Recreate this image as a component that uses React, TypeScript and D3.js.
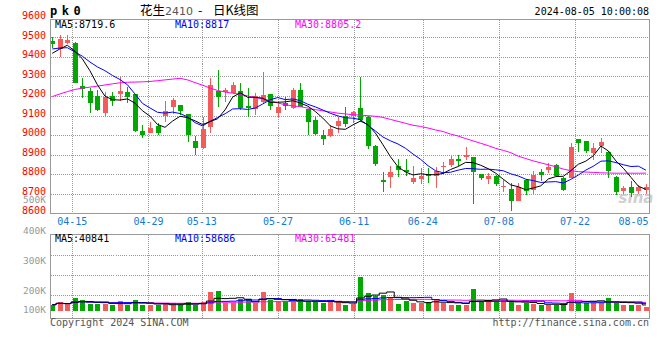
import React from 'react';
import * as d3 from 'd3';

const dates = [
  '04-10','04-11','04-12','04-15','04-16','04-17','04-18','04-19','04-22','04-23',
  '04-24','04-25','04-26','04-29','04-30','05-06','05-07','05-08','05-09','05-10',
  '05-13','05-14','05-15','05-16','05-17','05-20','05-21','05-22','05-23','05-24',
  '05-27','05-28','05-29','05-30','05-31','06-03','06-04','06-05','06-06','06-07',
  '06-11','06-12','06-13','06-14','06-17','06-18','06-19','06-20','06-21','06-24',
  '06-25','06-26','06-27','06-28','07-01','07-02','07-03','07-04','07-05','07-08',
  '07-09','07-10','07-11','07-12','07-15','07-16','07-17','07-18','07-19','07-22',
  '07-23','07-24','07-25','07-26','07-29','07-30','07-31','08-01','08-02','08-05',
];

const opens = [
  9481,9439,9473,9473,9251,9226,9200,9115,9200,9210,
  9220,9210,9021,9013,9047,9095,9146,9154,9106,8969,
  8933,9043,9226,9219,9217,9226,9149,9132,9171,9210,
  9115,9163,9140,9231,9132,9077,9000,8996,9048,9098,
  9097,9136,9094,8945,8768,8785,8844,8823,8759,8773,
  8803,8790,8838,8845,8879,8886,8888,8801,8773,8793,
  8739,8724,8664,8771,8720,8810,8819,8847,8783,8783,
  8978,8969,8907,8946,8915,8788,8712,8732,8712,8717,
];
const highs = [
  9503,9512,9509,9478,9294,9240,9232,9222,9222,9299,
  9244,9212,9052,9069,9061,9174,9192,9156,9108,8995,
  9094,9294,9333,9240,9273,9268,9239,9214,9324,9212,
  9176,9193,9240,9268,9134,9091,9026,9052,9091,9142,
  9124,9297,9096,8947,8812,8840,8879,8879,8844,8832,
  8832,8835,8861,8891,8900,8938,8890,8803,8806,8795,
  8771,8754,8754,8775,8817,8825,8859,8851,8785,8961,
  8980,8971,8961,8986,8917,8790,8741,8763,8746,8749,
];
const lows = [
  9443,9401,9466,9265,9192,9115,9122,9098,9148,9176,
  9166,9018,8987,9009,9001,9069,9108,9103,8966,8898,
  8930,9013,9146,9171,9213,9129,9094,9103,9159,9130,
  9094,9129,9135,9142,9001,9001,8950,8989,9013,9043,
  9060,9068,8928,8844,8708,8727,8785,8790,8752,8752,
  8756,8727,8803,8837,8844,8874,8646,8772,8752,8742,
  8707,8610,8662,8695,8700,8763,8805,8788,8712,8780,
  8915,8907,8873,8907,8780,8695,8700,8683,8700,8700,
];
const closes = [
  9466,9490,9486,9268,9236,9166,9130,9197,9175,9226,
  9197,9021,9002,9037,9013,9125,9180,9125,9001,8932,
  9031,9256,9197,9231,9256,9140,9140,9200,9205,9151,
  9142,9150,9231,9146,9069,9006,8981,9031,9072,9057,
  9119,9077,8942,8854,8760,8812,8820,8810,8778,8790,
  8790,8818,8843,8879,8866,8896,8810,8778,8790,8752,
  8742,8664,8732,8712,8797,8797,8839,8793,8720,8941,
  8961,8919,8932,8966,8814,8707,8729,8703,8737,8734,
];
// closes of the sessions just before the first visible one (for MA5 / MA10)
const priorCloses = [9440,9470,9480,9460,9460,9380,9390,9420,9434];

const ma30Price = [
  9197,9210,9222,9233,9240,9245,9250,9256,9262,9267,
  9270,9271,9272,9274,9278,9282,9286,9290,9282,9268,
  9255,9240,9228,9220,9214,9208,9200,9192,9185,9176,
  9164,9155,9149,9145,9138,9130,9124,9118,9112,9108,
  9104,9102,9099,9096,9090,9080,9070,9060,9050,9044,
  9036,9026,9018,9005,8995,8982,8970,8958,8946,8932,
  8922,8910,8892,8880,8868,8858,8848,8838,8826,8818,
  8813,8811,8809,8807,8806,8805,8805,8805,8805,8805.2,
];

const volumes = [
  52600,66000,56100,85900,75900,56100,56100,56100,52600,71000,
  52600,75900,52600,52600,49600,56100,52600,52600,66000,52600,
  66000,115600,120600,59600,59600,79400,79400,59600,115600,75900,
  66000,69500,66000,79400,69500,66000,62500,66000,66000,52600,
  56100,188600,109200,95800,99300,85900,56100,69500,62500,59600,
  66000,77400,59600,52600,52600,52600,130500,66000,66000,66000,
  75900,72500,52600,59600,56100,52600,52600,52600,52600,112200,
  62500,62500,59600,62500,85900,59600,52600,52600,49600,42700,
];

const priceTicks = [9600,9500,9400,9300,9200,9100,9000,8900,8800,8700,8600];
const priceGrid = [9500,9400,9300,9200,9100,9000,8900,8800,8700];
const volTicks = [500000,400000,300000,200000,100000];
const volTickLabels = ['500K','400K','300K','200K','100K'];
const volGrid = [300000,200000,100000];
const dateTicks = ['04-15','04-29','05-13','05-27','06-11','06-24','07-08','07-22','08-05'];

const priceLegend = ['MA5:8719.6','MA10:8817','MA30:8805.2'];
const volLegend = ['MA5:40841','MA10:58686','MA30:65481'];
const legendColors = ['#000000','#0000ff','#ff00ff'];
const legendX = [55,175,295];

const RED = '#f45b5b';
const GREEN = '#00a800';
const MONO = '"DejaVu Sans Mono", "Liberation Mono", monospace';
const CJK = '"Noto Sans CJK SC", sans-serif';

export default function App() {
  const L = 50.5, R = 649.5, T = 19.5, B = 213.5;
  const VT = 234.5, VB = 318.5;

  const x = d3.scalePoint<string>().domain(dates).range([52.3, 646]);
  const xg = d3.scalePoint<string>().domain(dates).range([49.45, 651.2]);
  const y = d3.scaleLinear().domain([8600, 9600]).range([213.3, 17.7]);
  const yLab = d3.scaleLinear().domain([8600, 9600]).range([214.3, 19]);
  const yv = d3.scaleLinear().domain([0, 400000]).range([315.3, 234.7]);
  const yvLab = d3.scaleLinear()
    .domain([100000, 200000, 300000, 400000, 500000])
    .range([313.3, 294, 264.3, 234, 203.3]);

  const allCloses = [...priorCloses, ...closes];
  const off = priorCloses.length;
  const maOf = (n: number) => closes.map((_, i) => d3.mean(allCloses.slice(i + off - n + 1, i + off + 1)) as number);
  const ma5 = maOf(5);
  const ma10 = maOf(10);
  const vma = (n: number) => volumes.map((_, i) => d3.mean(volumes.slice(Math.max(0, i - n + 1), i + 1)) as number);

  const cx = (i: number) => Math.round(x(dates[i]) as number);

  const priceLine = d3.line<number>().x((_, i) => x(dates[i]) as number).y(d => y(d));
  const volLine = d3.line<number>().x((_, i) => x(dates[i]) as number).y(d => yv(d)).curve(d3.curveStep);

  const gridXs = dateTicks
    .map(d => Math.round(xg(d) as number) + 0.5)
    .filter(v => v < R - 1);

  return (
    <svg width={660} height={360} style={{ position: 'absolute', left: 0, top: 0, background: '#fff' }}>
      {/* header */}
      <text x={50} y={15} fontFamily={MONO} fontWeight="bold" fontSize={12} letterSpacing={4.5} fill="#000">pk0</text>
      <text y={15} fontSize={12.5} fill="#000" fontFamily={CJK}>
        <tspan x={140}>花生</tspan>
        <tspan x={165} fill="#555" fontFamily="'DejaVu Sans', sans-serif" fontSize={11}>2410</tspan>
        <tspan x={198}>-</tspan>
        <tspan x={213}>日K线图</tspan>
      </text>
      <text x={649} y={15} textAnchor="end" fontFamily={MONO} fontSize={10} fill="#000">2024-08-05 10:00:08</text>

      {/* grids */}
      <g stroke="#999" strokeWidth={1} strokeDasharray="1,1" shapeRendering="crispEdges">
        {priceGrid.map(p => (
          <line key={p} x1={L} x2={R} y1={Math.round(y(p)) + 0.5} y2={Math.round(y(p)) + 0.5} />
        ))}
        {gridXs.map(gx => (
          <line key={'p' + gx} x1={gx} x2={gx} y1={T} y2={B} />
        ))}
        {volGrid.map(v => (
          <line key={'v' + v} x1={L} x2={R} y1={Math.round(yv(v)) + 0.5} y2={Math.round(yv(v)) + 0.5} />
        ))}
        {gridXs.map(gx => (
          <line key={'vg' + gx} x1={gx} x2={gx} y1={VT} y2={VB} />
        ))}
      </g>

      {/* watermark */}
      <text x={636} y={203} textAnchor="middle" fontFamily="'DejaVu Sans', sans-serif" fontStyle="italic" fontWeight="bold" fontSize={15} fill="#c4c4c4" opacity={0.8}>sina</text>

      {/* candles */}
      <g shapeRendering="crispEdges">
        {dates.map((d, i) => {
          const up = closes[i] >= opens[i];
          const col = up ? RED : GREEN;
          const c = cx(i);
          const top = Math.round(y(Math.max(opens[i], closes[i])));
          const bot = Math.round(y(Math.min(opens[i], closes[i])));
          return (
            <g key={d}>
              <line x1={c + 0.5} x2={c + 0.5} y1={Math.round(y(highs[i]))} y2={Math.round(y(lows[i]))} stroke={col} strokeWidth={1} />
              <rect x={c - 2} y={top} width={5} height={Math.max(1, bot - top)} fill={col} />
            </g>
          );
        })}
      </g>

      {/* price MAs */}
      <path d={priceLine(ma30Price) || ''} fill="none" stroke="#ff00ff" strokeWidth={1} />
      <path d={priceLine(ma10) || ''} fill="none" stroke="#0000ff" strokeWidth={1} />
      <path d={priceLine(ma5) || ''} fill="none" stroke="#000" strokeWidth={1} />

      {/* volume bars */}
      <g shapeRendering="crispEdges">
        {dates.map((d, i) => {
          const up = closes[i] >= opens[i];
          const top = Math.round(yv(volumes[i]));
          return <rect key={'vb' + d} x={cx(i) - 2} y={top} width={5} height={311 - top} fill={up ? RED : GREEN} />;
        })}
      </g>
      <path d={volLine(vma(30)) || ''} fill="none" stroke="#ff00ff" strokeWidth={1} />
      <path d={volLine(vma(10)) || ''} fill="none" stroke="#0000ff" strokeWidth={1} />
      <path d={volLine(vma(5)) || ''} fill="none" stroke="#000" strokeWidth={1} />

      {/* frames */}
      <g fill="none" stroke="#999" strokeWidth={1} shapeRendering="crispEdges">
        <rect x={L} y={T} width={R - L} height={B - T} />
        <rect x={L} y={VT} width={R - L} height={VB - VT} />
      </g>

      {/* legends */}
      {priceLegend.map((t, i) => (
        <text key={t} x={legendX[i]} y={27.5} fontFamily={MONO} fontSize={10} fill={legendColors[i]}>{t}</text>
      ))}
      {volLegend.map((t, i) => (
        <text key={t} x={legendX[i]} y={242} fontFamily={MONO} fontSize={10} fill={legendColors[i]}>{t}</text>
      ))}

      {/* price axis labels */}
      {priceTicks.map(p => (
        <text key={'pl' + p} x={46} y={yLab(p)} textAnchor="end" fontFamily={MONO} fontSize={10} fill="#ff0000">{p}</text>
      ))}
      {/* volume axis labels */}
      {volTicks.map((v, i) => (
        <text key={'vl' + v} x={46} y={yvLab(v)} textAnchor="end" fontFamily={MONO} fontSize={9.5} fill="#999">{volTickLabels[i]}</text>
      ))}

      {/* date labels */}
      {dateTicks.map(d => {
        const gx = xg(d) as number;
        const atEnd = gx + 15 > R;
        return (
          <text key={'d' + d} x={atEnd ? 648.5 : gx} y={225} textAnchor={atEnd ? 'end' : 'middle'} fontFamily={MONO} fontSize={10} fill="#1478d4">{d}</text>
        );
      })}

      {/* footer */}
      <text x={50} y={326} fontFamily={MONO} fontSize={10} fill="#555">Copyright 2024 SINA.COM</text>
      <text x={649} y={326} textAnchor="end" fontFamily={MONO} fontSize={10} fill="#555">http://finance.sina.com.cn</text>
    </svg>
  );
}
